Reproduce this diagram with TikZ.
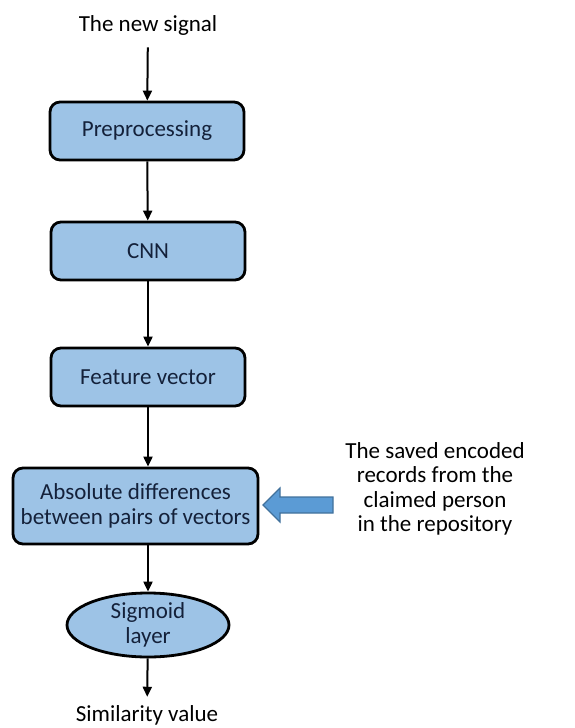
\documentclass[tikz,border=0pt]{standalone}
\usepackage{fontspec}
\setmainfont{Carlito}
\usepackage{xcolor}
\usepackage{tikz}
\usetikzlibrary{
  arrows.meta,
  shapes.geometric
}
\definecolor{boxfill}{HTML}{9DC3E6}
\definecolor{boxtext}{HTML}{14213A}
\definecolor{arrowfill}{HTML}{5B9BD5}
\definecolor{arrowline}{HTML}{41719C}

\begin{document}
\begin{tikzpicture}[
          x=0.5pt,y=-0.5pt,
          font=\fontsize{11.5}{12.2}\selectfont,
          stage/.style={
              draw=black,
              line width=1.4pt,
              rounded corners=5pt,
              fill=boxfill,
              text=boxtext,
              align=center,
              inner sep=0pt,
              minimum width=97pt,
              minimum height=29pt
            },flow/.style={
              line width=1pt,
              -{Triangle[length=5pt,width=4.5pt]}
            },plain/.style={
              align=center,
              inner sep=1pt
            }
        ]
        \useasboundingbox (0,0) rectangle (574,728);

        % texts and stages
        \node[plain] (signal) at (148,25) {The new signal};
        \node[stage] (pre) at (147,131) {Preprocessing};
        \node[stage] (cnn) at (148,251) {CNN};
        \node[stage] (feat) at (148,377) {Feature vector};
        \node[stage,minimum width=122.5pt,minimum height=38pt] (absdiff) at (135.5,506)
          {Absolute differences\\between pairs of vectors};
        \node[
          ellipse,
          draw=black,
          line width=1.4pt,
          fill=boxfill,
          text=boxtext,
          align=center,
          inner sep=0pt,
          minimum width=81pt,
          minimum height=32pt
        ] (sigmoid) at (148,625) {Sigmoid\\layer};
        \node[plain] (simil) at (147,715) {Similarity value};
        \node[plain] (saved) at (435,489)
          {The saved encoded\\records from the\\claimed person\\in the repository};

        % arrows between stages
        \draw[flow,shorten <=5pt] (signal) -- (pre);
        \draw[flow] (pre) -- (cnn);
        \draw[flow] (cnn) -- (feat);
        \draw[flow] (feat.south) -- (feat.south |- absdiff.north);
        \draw[flow] (absdiff.south -| sigmoid.north) -- (sigmoid);
        \draw[flow,shorten >=3pt] (sigmoid) -- (simil);

        % block arrow from the saved records
        \draw[
          fill=arrowfill,
          draw=arrowline,
          line width=0.6pt
        ] (333,497) -- (280,497) -- (280,488) -- (263,505)
          -- (280,522) -- (280,513) -- (333,513) -- cycle;

      \end{tikzpicture}
\end{document}
